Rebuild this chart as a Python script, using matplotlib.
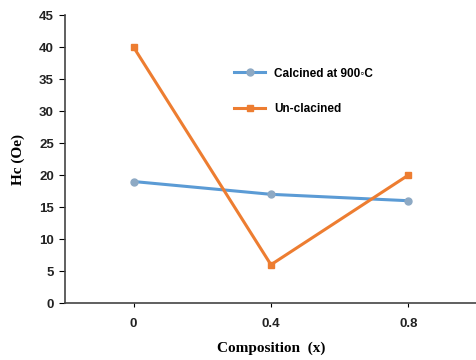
import matplotlib.pyplot as plt

categories = ["0", "0.4", "0.8"]
calcined = [19, 17, 16]
uncalcined = [40, 6, 20]

fig = plt.figure(figsize=(4.77, 3.6), dpi=100)
ax = fig.add_axes([0.136, 0.158, 0.864, 0.8])

pos = [0.5, 1.5, 2.5]
ax.plot(pos, calcined, color="#5B9BD5", lw=2.2, marker="o", ms=5,
        mfc="#8DA9C4", mec="#8DA9C4", label="Calcined at 900\u25e6C")
ax.plot(pos, uncalcined, color="#ED7D31", lw=2.2, marker="s", ms=5,
        label="Un-clacined")

ax.set_xlim(0, 3)
ax.set_ylim(0, 45)
ax.set_yticks(range(0, 46, 5))
ax.set_xticks(pos)
ax.set_xticklabels(categories)
for lab in ax.get_xticklabels() + ax.get_yticklabels():
    lab.set_fontweight("bold")
    lab.set_fontsize(9.5)
    lab.set_fontfamily("Liberation Sans")
    lab.set_color("#222222")
ax.tick_params(axis="x", length=3, pad=8)
ax.tick_params(axis="y", length=4, pad=4)

for s in ["top", "right"]:
    ax.spines[s].set_visible(False)
for s in ["left", "bottom"]:
    ax.spines[s].set_color("#444444")
    ax.spines[s].set_linewidth(1.2)

ax.set_xlabel("Composition  (x)", fontfamily="Liberation Serif",
              fontweight="bold", fontsize=11, labelpad=8)
ax.set_ylabel("Hc (Oe)", fontfamily="Liberation Serif",
              fontweight="bold", fontsize=11, labelpad=10)

ax.legend(loc="upper left", bbox_to_anchor=(0.385, 0.855), frameon=False,
          handlelength=2.6, labelspacing=2.0,
          prop={"family": "Liberation Sans", "weight": "bold", "size": 8.5})

fig.savefig("out.png", dpi=100)
